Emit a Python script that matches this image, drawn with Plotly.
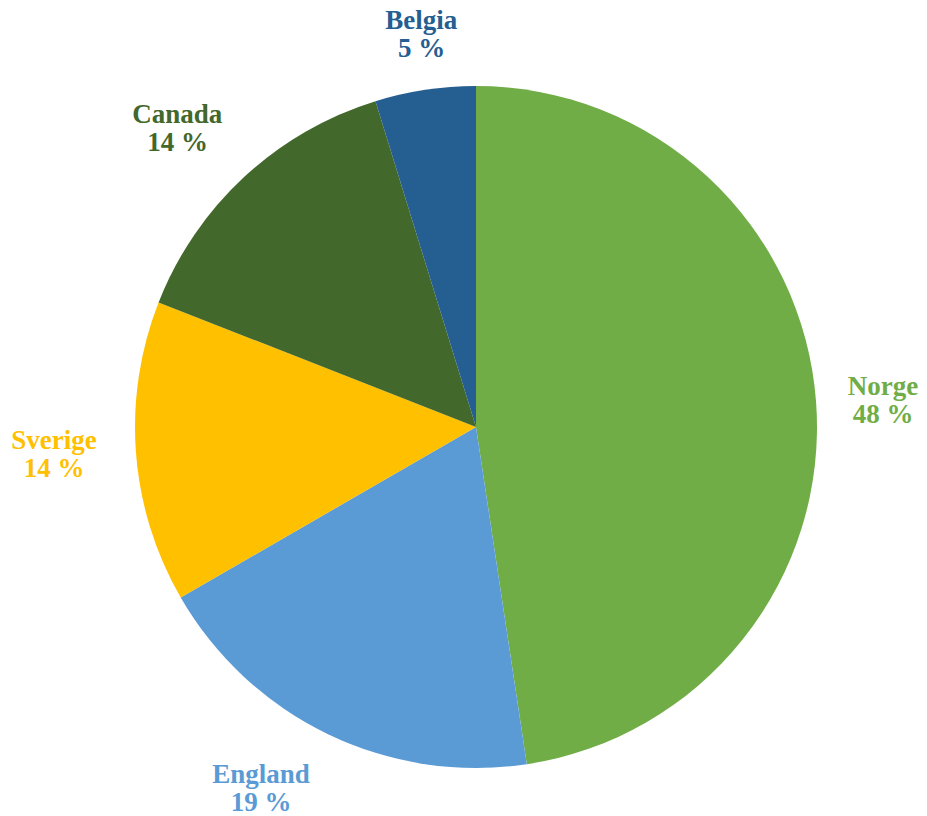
import math
import plotly.graph_objects as go

labels = ["Norge", "England", "Sverige", "Canada", "Belgia"]
values = [10, 4, 3, 3, 1]
colors = ["#70AD47", "#5B9BD5", "#FFC000", "#43682B", "#255E91"]

W, H = 927, 816
ml, mr, mt, mb = 135, 110, 86, 48
plot_w = W - ml - mr

fig = go.Figure(go.Pie(
    labels=labels, values=values, sort=False, direction="clockwise", rotation=0,
    marker=dict(colors=colors, line=dict(width=0)),
    textinfo="none", hoverinfo="label+percent", showlegend=False,
))

# label annotations computed from the data (mid-angle of each slice)
total = sum(values)
cum = 0
gap = 26 / plot_w  # paper units
r = 0.5 + gap
pitch = 28
fsize = 27
font = dict(family="Liberation Serif, Times New Roman, serif", size=fsize)
for lab, v, c in zip(labels, values, colors):
    mid = (cum + v / 2) / total * 2 * math.pi
    cum += v
    s, co = math.sin(mid), math.cos(mid)
    x = 0.5 + r * s
    y = 0.5 + r * co
    xa = "left" if s > 0.3 else ("right" if s < -0.3 else "center")
    if co > 0.3:
        ya, shifts = "bottom", (pitch, 0)
    elif co < -0.3:
        ya, shifts = "top", (0, -pitch)
    else:
        ya, shifts = "middle", (pitch / 2, -pitch / 2)
    pct = round(v / total * 100)
    box_w = round(len(lab) * 0.56 * fsize) + 4
    for txt, ys in zip((lab, f"{pct} %"), shifts):
        fig.add_annotation(
            x=x, y=y, xref="paper", yref="paper", xanchor=xa, yanchor=ya,
            yshift=ys, text=f"<b>{txt}</b>", showarrow=False, align="center",
            width=box_w, borderpad=0,
            font=dict(font, color=c),
        )

fig.update_layout(
    width=W, height=H,
    margin=dict(l=ml, r=mr, t=mt, b=mb, autoexpand=False),
    paper_bgcolor="white", plot_bgcolor="white",
)
fig.write_html("out.html")
